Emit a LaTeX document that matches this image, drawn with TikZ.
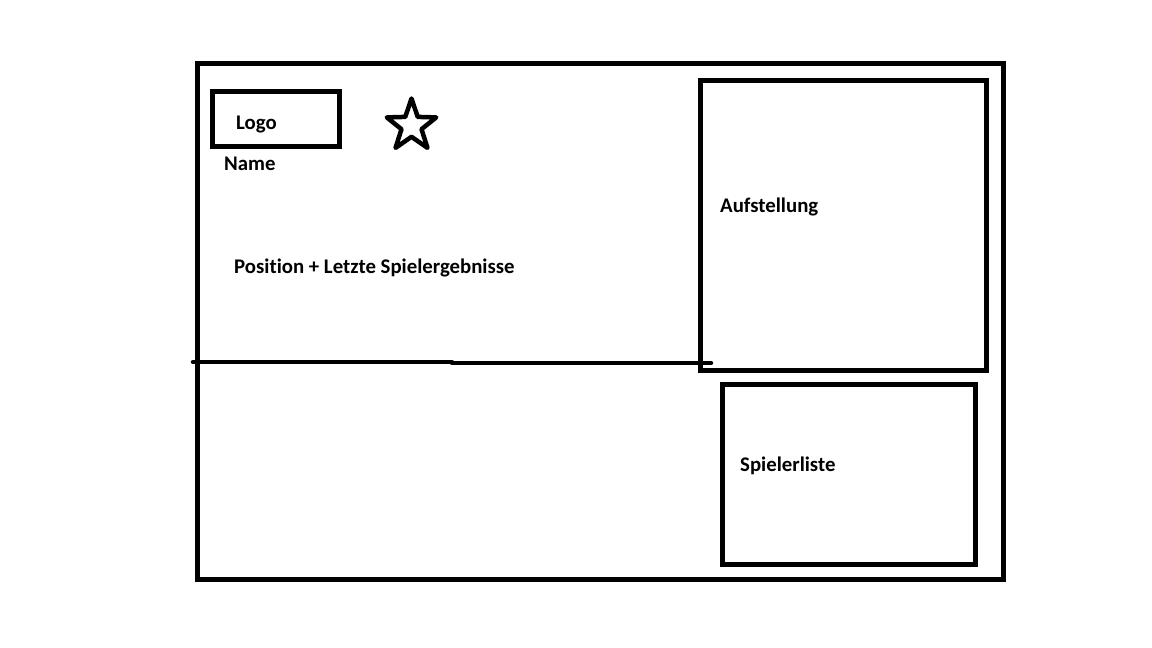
\documentclass[tikz,border=0pt]{standalone}
\usepackage{fontspec}
\setmainfont{Carlito}[Ligatures=NoCommon]
\begin{document}
\begin{tikzpicture}[x=1pt,y=-1pt,
  frame/.style={draw=black,line width=5pt,line join=miter},
  divider/.style={draw=black,line width=4.5pt,line cap=round},
  starline/.style={draw=black,line width=4.5pt,line join=round},
  label/.style={anchor=base west,inner sep=0pt,font=\fontsize{20.8}{24}\selectfont\bfseries}]
\useasboundingbox[fill=white] (0,0) rectangle (1152,648);
% boxes
\draw[frame] (197.5,63.5) rectangle (1003.5,579.5);
\draw[frame] (212,91.3) rectangle (339.7,146.3);
\draw[frame] (700,80.5) rectangle (986,370);
\draw[frame] (722.5,384.5) rectangle (975.5,564.5);
% divider
\coordinate (dl) at (193,362);
\coordinate (dm1) at (452,362);
\coordinate (dm2) at (452,363);
\coordinate (dr) at (711,363);
\draw[divider] (dl) -- (dm1);
\draw[divider] (dm2) -- (dr);
% star
\draw[starline] (411.5,98.5) -- (417.7,116.9) -- (436.2,117.4) -- (421.5,129.2) -- (427.5,147.9)
  -- (411.5,136.8) -- (395.5,147.9) -- (401.5,129.2) -- (386.8,117.4) -- (405.3,116.9) -- cycle;
% texts
\node[label] (logo) at (236,129.5) {Logo};
\node[label] (name) at (224,170) {Name};
\node[label] (pos) at (234,273) {Position + Letzte Spielergebnisse};
\node[label] (aufst) at (720,212) {Aufstellung};
\node[label] (liste) at (740,471) {Spielerliste};
\end{tikzpicture}
\end{document}
